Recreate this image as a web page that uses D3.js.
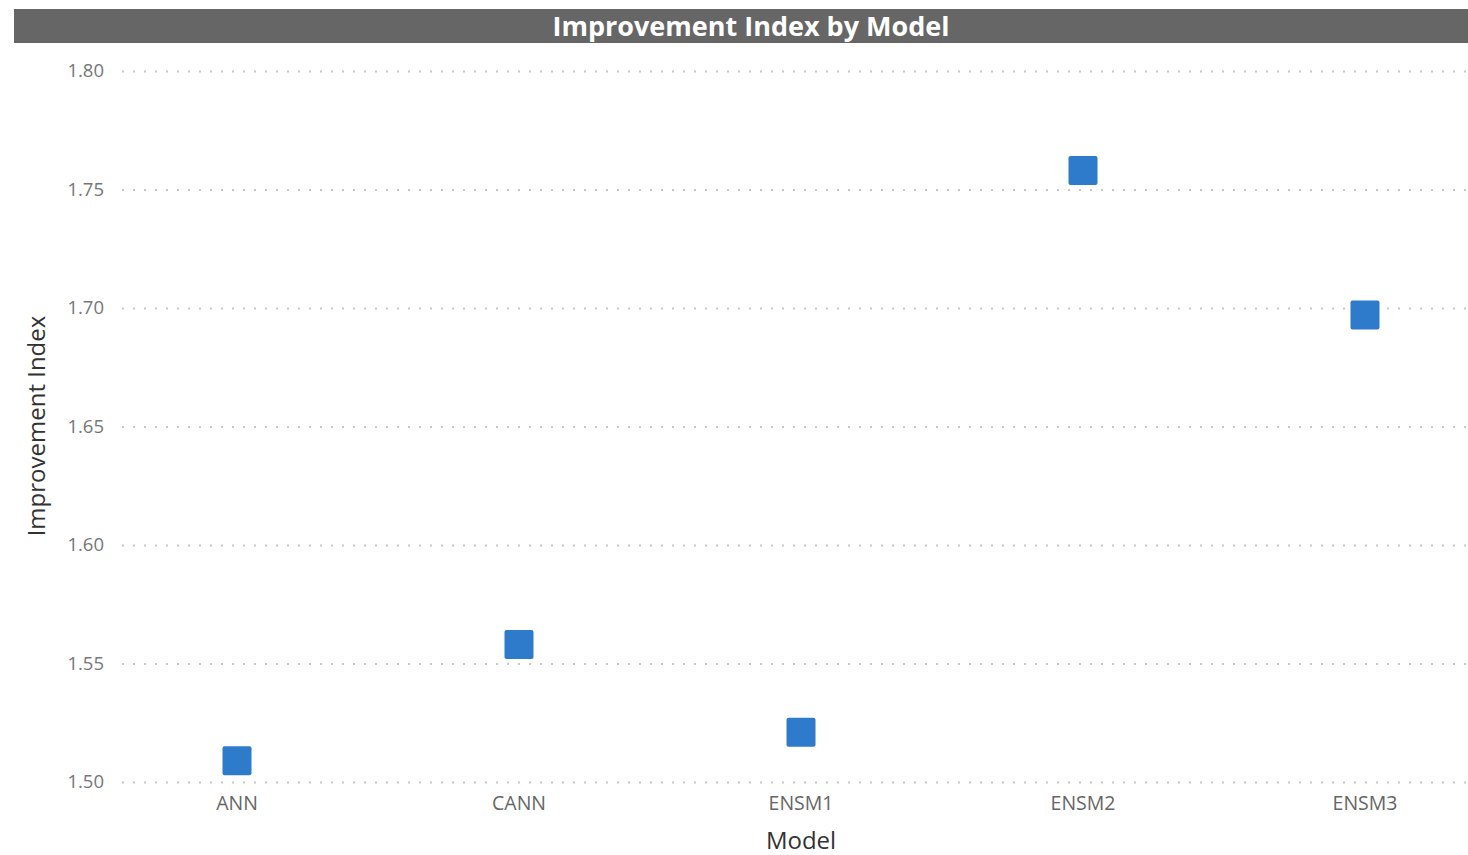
<!DOCTYPE html>
<html>
<head>
<meta charset="utf-8">
<script src="https://cdn.jsdelivr.net/npm/d3@7"></script>
<style>
  body { margin: 0; background: #fff; }
  svg { display: block; font-family: "Open Sans", "Noto Sans", sans-serif; }
</style>
</head>
<body>
<div id="chart"></div>
<script>
// data
const models = ['ANN', 'CANN', 'ENSM1', 'ENSM2', 'ENSM3'];
const improvementIndex = [1.509, 1.558, 1.521, 1.758, 1.697];
const yTicks = [1.50, 1.55, 1.60, 1.65, 1.70, 1.75, 1.80];

let width = 1468,
    height = 855;

let svg = d3.select('#chart').append('svg')
    .attr('width', width)
    .attr('height', height);

// title bar
svg.append('rect')
    .attr('x', 14)
    .attr('y', 9)
    .attr('width', width)
    .attr('height', 34)
    .attr('fill', '#666666');

svg.append('text')
    .attr('x', 751)
    .attr('y', 27)
    .attr('dy', '0.35em')
    .attr('text-anchor', 'middle')
    .attr('fill', '#fff')
    .style('font-size', '27px')
    .style('font-weight', 'bold')
    .text('Improvement Index by Model');

let x = d3.scaleBand()
    .domain(models)
    .range([96, 1506]);

let y = d3.scaleLinear()
    .domain([1.50, 1.80])
    .range([782, 71]);

// dotted gridlines + y labels
let yAxis = d3.axisLeft(y)
    .tickValues(yTicks)
    .tickFormat(d3.format('.2f'))
    .tickSize(-(width - 122))
    .tickPadding(18);

let gy = svg.append('g')
    .attr('transform', 'translate(122,0)')
    .call(yAxis)
    .attr('font-family', null);

gy.select('.domain').remove();
gy.selectAll('.tick line')
    .attr('stroke', '#c8c8c8')
    .attr('stroke-width', 2)
    .attr('stroke-dasharray', '2,9');
gy.selectAll('.tick text')
    .attr('fill', '#777')
    .style('font-size', '18.5px');

// x labels
let xAxis = d3.axisBottom(x)
    .tickSize(0)
    .tickPadding(14);

let gx = svg.append('g')
    .attr('transform', 'translate(0,782)')
    .call(xAxis)
    .attr('font-family', null);

gx.select('.domain').remove();
gx.selectAll('.tick text')
    .attr('fill', '#666')
    .style('font-size', '19.5px');

// axis titles
svg.append('text')
    .attr('transform', 'translate(37,426) rotate(-90)')
    .attr('text-anchor', 'middle')
    .attr('dy', '0.35em')
    .attr('fill', '#333')
    .style('font-size', '24px')
    .text('Improvement Index');

svg.append('text')
    .attr('x', 801)
    .attr('y', 841)
    .attr('dy', '0.35em')
    .attr('text-anchor', 'middle')
    .attr('fill', '#333')
    .style('font-size', '24px')
    .text('Model');

// markers
let size = 29;
svg.selectAll('rect.pt')
    .data(models)
    .enter()
    .append('rect')
    .attr('class', 'pt')
    .attr('x', (d) => x(d) + x.bandwidth() / 2 - size / 2)
    .attr('y', (d, i) => y(improvementIndex[i]) - size / 2)
    .attr('width', size)
    .attr('height', size)
    .attr('rx', 2)
    .attr('fill', '#2f7bcb');
</script>
</body>
</html>
